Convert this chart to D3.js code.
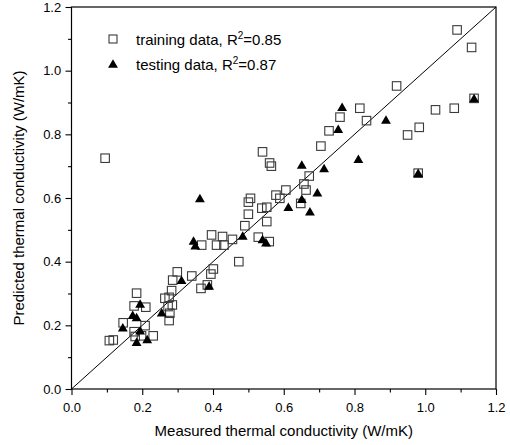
<!DOCTYPE html>
<html>
<head>
<meta charset="utf-8">
<script src="https://cdn.jsdelivr.net/npm/d3@7"></script>
<style>
  html, body { margin: 0; padding: 0; background: #fff; }
  svg { display: block; font-family: "Liberation Sans", Arial, sans-serif; }
</style>
</head>
<body>
<svg id="chart" width="510" height="445"></svg>
<script>
// Training data (measured, predicted)
const trainX = [0.095,0.107,0.118,0.146,0.177,0.18,0.177,0.184,0.208,0.21,0.198,0.231,
  0.264,0.276,0.283,0.273,0.278,0.276,0.285,0.299,0.286,0.34,0.366,0.368,0.384,0.394,
  0.401,0.396,0.41,0.427,0.431,0.455,0.473,0.49,0.5,0.5,0.506,0.528,0.559,0.552,0.538,
  0.552,0.578,0.589,0.606,0.648,0.657,0.663,0.672,0.705,0.728,0.759,0.815,0.834,0.919,
  0.95,0.983,0.98,1.029,1.082,1.09,1.131,1.138,0.54,0.56,0.565];
const trainY = [0.725,0.152,0.154,0.208,0.18,0.165,0.261,0.301,0.199,0.257,0.167,0.167,
  0.285,0.288,0.309,0.259,0.238,0.215,0.264,0.368,0.342,0.355,0.316,0.452,0.327,0.361,
  0.377,0.484,0.452,0.479,0.452,0.47,0.40,0.513,0.549,0.587,0.599,0.477,0.463,0.526,0.568,
  0.571,0.609,0.599,0.625,0.583,0.644,0.625,0.669,0.763,0.811,0.854,0.882,0.843,0.952,
  0.798,0.822,0.678,0.877,0.882,1.128,1.073,0.913,0.745,0.71,0.70];

// Testing data (measured, predicted)
const testX = [0.145,0.173,0.184,0.194,0.194,0.184,0.214,0.255,0.311,0.389,0.345,0.35,
  0.363,0.484,0.54,0.55,0.613,0.651,0.674,0.695,0.651,0.714,0.754,0.765,0.811,0.889,0.98,1.138];
const testY = [0.193,0.232,0.225,0.267,0.183,0.147,0.156,0.24,0.342,0.324,0.465,0.45,
  0.599,0.481,0.47,0.46,0.571,0.596,0.557,0.617,0.704,0.693,0.816,0.885,0.722,0.845,0.678,0.913];

const tickValues = [0, 0.2, 0.4, 0.6, 0.8, 1.0, 1.2];
const minorTickValues = [0.1, 0.3, 0.5, 0.7, 0.9, 1.1];
const xTitle = "Measured thermal conductivity (W/mK)";
const yTitle = "Predicted thermal conductivity (W/mK)";
const legendLabels = ["training data, R", "testing data, R"];
const legendR2 = ["=0.85", "=0.87"];

const svg = d3.select("#chart");
const mLeft = 71.5, mRight = 496, mTop = 7, mBottom = 389;

const x = d3.scaleLinear().domain([0, 1.2]).range([mLeft, mRight]);
const y = d3.scaleLinear().domain([0, 1.2]).range([mBottom, mTop]);

// Frame
svg.append("rect")
  .attr("x", mLeft).attr("y", mTop)
  .attr("width", mRight - mLeft).attr("height", mBottom - mTop)
  .attr("fill", "none").attr("stroke", "#000").attr("stroke-width", 1.2);

// Axes
const xAxis = svg.append("g").attr("transform", `translate(0,${mBottom})`)
  .call(d3.axisBottom(x).tickValues(tickValues).tickFormat(d3.format(".1f")).tickSize(6).tickSizeOuter(0));
const xMinor = svg.append("g").attr("transform", `translate(0,${mBottom})`)
  .call(d3.axisBottom(x).tickValues(minorTickValues).tickFormat("").tickSize(3.5).tickSizeOuter(0));
const yAxis = svg.append("g").attr("transform", `translate(${mLeft},0)`)
  .call(d3.axisLeft(y).tickValues(tickValues).tickFormat(d3.format(".1f")).tickSize(6).tickSizeOuter(0));
const yMinor = svg.append("g").attr("transform", `translate(${mLeft},0)`)
  .call(d3.axisLeft(y).tickValues(minorTickValues).tickFormat("").tickSize(3.5).tickSizeOuter(0));

[xAxis, xMinor, yAxis, yMinor].forEach(g => {
  g.select(".domain").remove();
  g.selectAll("line").attr("stroke", "#000").attr("stroke-width", 1.1);
  g.selectAll("text").attr("font-size", 13).attr("fill", "#000")
    .attr("font-family", "'Liberation Sans', Arial, sans-serif");
});
xAxis.selectAll("text").attr("dy", "1.05em");
yAxis.selectAll("text").attr("dx", "-0.1em");

// Titles
svg.append("text").attr("x", (mLeft + mRight) / 2).attr("y", 436)
  .attr("text-anchor", "middle").attr("font-size", 15).text(xTitle);
svg.append("text")
  .attr("transform", `translate(24,${(mTop + mBottom) / 2}) rotate(-90)`)
  .attr("text-anchor", "middle").attr("font-size", 15).text(yTitle);

// Diagonal y = x
svg.append("line")
  .attr("x1", x(0)).attr("y1", y(0)).attr("x2", x(1.2)).attr("y2", y(1.2))
  .attr("stroke", "#000").attr("stroke-width", 1);

const sq = 8.5;
const triPath = d3.symbol().type(d3.symbolTriangle).size(42);

// Training points
const train = trainX.map((v, i) => ({ x: v, y: trainY[i] }));
svg.append("g").selectAll("rect").data(train).join("rect")
  .attr("x", d => x(d.x) - sq / 2).attr("y", d => y(d.y) - sq / 2)
  .attr("width", sq).attr("height", sq)
  .attr("fill", "none").attr("stroke", "#3a3a3a").attr("stroke-width", 1.1);

// Testing points
const test = testX.map((v, i) => ({ x: v, y: testY[i] }));
svg.append("g").selectAll("path").data(test).join("path")
  .attr("d", triPath)
  .attr("transform", d => `translate(${x(d.x)},${y(d.y) + 1})`)
  .attr("fill", "#000");

// Legend
const lg = svg.append("g");
lg.append("rect").attr("x", 109).attr("y", 35).attr("width", 8).attr("height", 8)
  .attr("fill", "none").attr("stroke", "#3a3a3a").attr("stroke-width", 1.1);
lg.append("path").attr("d", triPath).attr("transform", "translate(113,65)").attr("fill", "#000");
legendLabels.forEach((lab, i) => {
  const t = lg.append("text").attr("x", 136).attr("y", 45 + i * 25).attr("font-size", 15);
  t.append("tspan").text(lab);
  t.append("tspan").attr("font-size", 10).attr("dy", -6).text("2");
  t.append("tspan").attr("dy", 6).text(legendR2[i]);
});
</script>
</body>
</html>
